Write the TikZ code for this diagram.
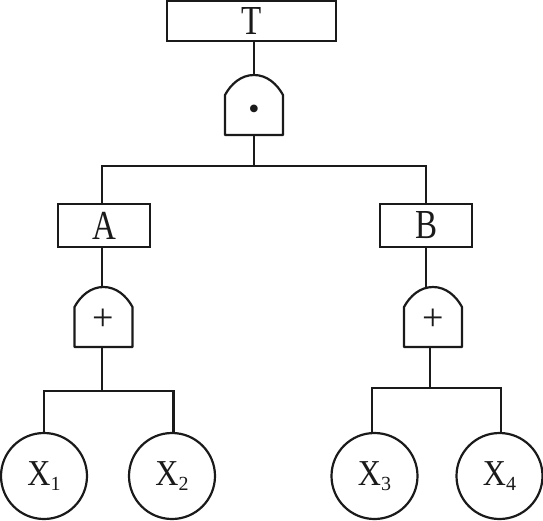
\documentclass[tikz,border=0pt]{standalone}
\usepackage{fontspec}
\setmainfont{Liberation Serif}
\usetikzlibrary{positioning,calc}
\definecolor{DarkInk}{HTML}{1A1A1A}
\newcommand{\tall}[2][1.25]{\scalebox{1}[#1]{#2}}
\newcommand{\idx}[1]{\raisebox{-5pt}{\fontsize{20}{20}\selectfont #1}}
\tikzset{
  % Event box
  evt/.style={
    rectangle, draw=DarkInk, line width=2.2pt, outer sep=0pt,
    minimum width=#1, minimum height=43pt, inner sep=0pt,
    text=DarkInk, font=\fontsize{33}{33}\selectfont
  },
  % Gate body, outline added afterwards
  gate/.style={
    rectangle, outer sep=0pt, inner sep=0pt,
    minimum width=58pt, minimum height=60pt,
    text height=26pt, text depth=0pt,
    text=DarkInk, font=\fontsize{38}{38}\selectfont
  },
  % Basic event circle
  basic/.style={
    circle, draw=DarkInk, line width=2.2pt, outer sep=0pt,
    minimum size=86pt, inner sep=0pt,
    text=DarkInk, font=\fontsize{32}{32}\selectfont
  },
  % Connector
  wire/.style={draw=DarkInk, line width=2.2pt}
}

\begin{document}
\begin{tikzpicture}[x=1pt,y=-1pt,node distance=34pt]
  \useasboundingbox (0,0) rectangle (543,520);

  % Top event and its gate
  \node[evt=169pt, minimum height=40pt] (top) at (251.5,21) {\tall{T}};
  \node[gate, text height=29pt, font=\fontsize{32}{32}\selectfont, below=34pt of top, xshift=2.5pt] (gt) {•};

  % Intermediate events
  \node[evt=92pt] (a) at (104,225.5) {\tall{A}};
  \node[evt=92pt, right=230pt of a] (b) {\tall{B}};

  % Lower gates
  \node[gate, below=40pt of a, xshift=-0.5pt] (ga) {+};
  \node[gate, below=40pt of b, xshift=7pt] (gb) {+};

  % Basic events
  \node[basic] (x1) at (44,476) {\tall[1.14]{X}\idx{1}};
  \node[basic, right=42pt of x1] (x2) {\tall[1.14]{X}\idx{2}};
  \node[basic] (x3) at (374.5,476) {\tall[1.14]{X}\idx{3}};
  \node[basic, right=39pt of x3] (x4) {\tall[1.14]{X}\idx{4}};

  % Bus junctions
  \coordinate (bt) at (gt.south |- 0,166);
  \coordinate (ba) at (102,391);
  \coordinate (bb) at (430,388);

  % Gate outlines
  \foreach \g in {gt,ga,gb} {
    \draw[wire, line join=round] ($(\g.north west)+(0,20)$) |- (\g.south east)
      -- ++(0,-40) .. controls +(-6,-11) and +(13,0) .. (\g.north)
      .. controls +(-13,0) and +(6,-11) .. ($(\g.north west)+(0,20)$) -- cycle;
  }

  % Connectors
  \draw[wire] (gt.north |- top.south) -- (gt.north);
  \draw[wire] (gt.south) -- (bt);
  \draw[wire] (ba |- a.north) |- (bt) -| (b.north);
  \draw[wire] (ba |- a.south) -- (ba |- ga.north);
  \draw[wire] (b.south) -- (b |- gb.north);
  \draw[wire] (ba |- ga.south) -- (ba);
  \draw[wire] (bb |- gb.south) -- (bb);
  \draw[wire] (x1.north) |- (ba) -| (x2.88);
  \draw[wire] (x3.93) |- (bb) -| (x4.88);

\end{tikzpicture}
\end{document}
